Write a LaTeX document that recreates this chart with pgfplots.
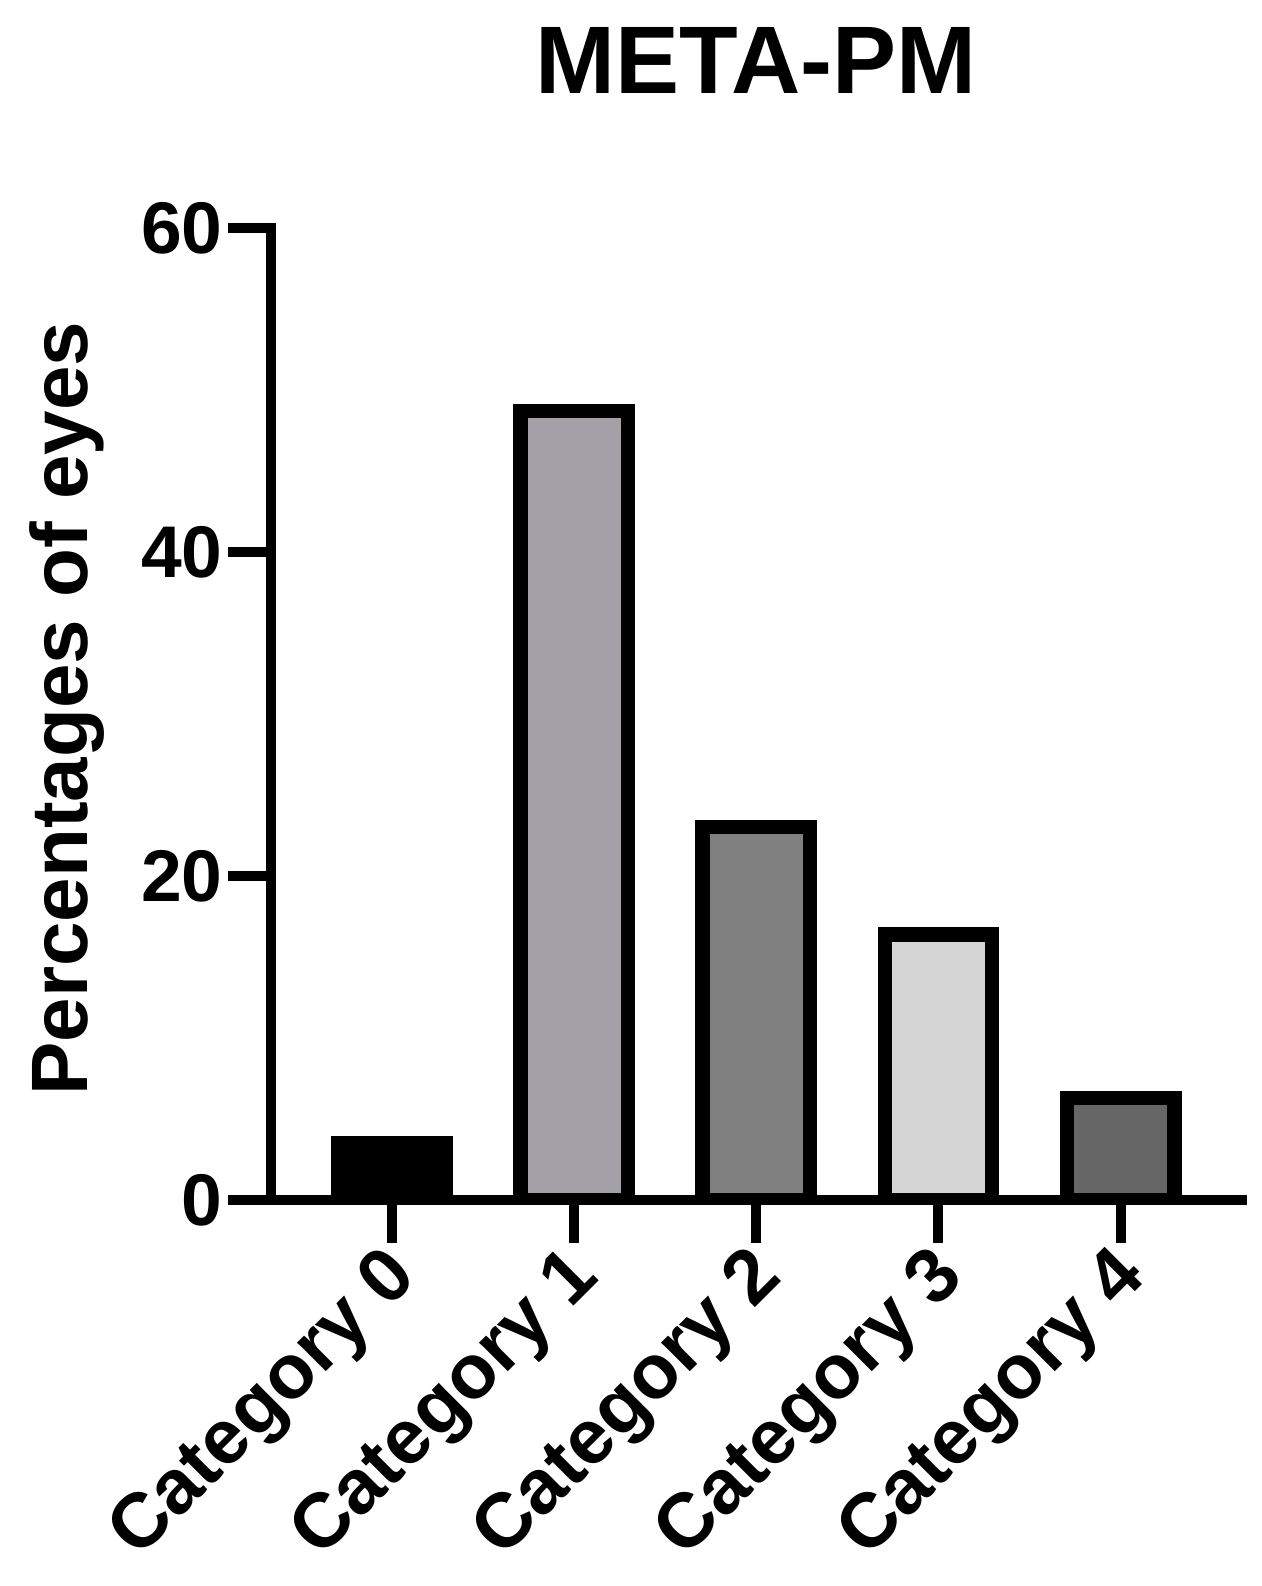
\documentclass[border=0pt]{standalone}
\usepackage{fontspec}
\setmainfont{Liberation Sans}
\usepackage{pgfplots}
\pgfplotsset{compat=1.18}
\definecolor{cA}{RGB}{163,161,167}
\definecolor{cB}{RGB}{128,128,128}
\definecolor{cC}{RGB}{213,213,213}
\definecolor{cD}{RGB}{102,102,102}
\begin{document}
\begin{tikzpicture}
\useasboundingbox (0,0) rectangle (315.5pt,396.5pt);
\begin{axis}[
  at={(67.75pt,96.4pt)}, anchor=south west,
  scale only axis, width=242.7pt, height=243.1pt,
  xmin=-0.664, xmax=4.665, ymin=0, ymax=60,
  axis lines*=left,
  axis line style={line width=2.5pt, line cap=rect, -},
  axis on top,
  xtick={0,1,2,3,4},
  xticklabels={Category 0,Category 1,Category 2,Category 3,Category 4},
  ytick={0,20,40,60},
  minor tick num=0,
  tick align=outside,
  major tick length=10.7pt,
  tick style={black, line width=2.5pt, line cap=butt},
  /pgf/number format/assume math mode=true,
  yticklabel style={font=\fontsize{18.3}{20}\selectfont\bfseries, anchor=east, inner sep=0pt, xshift=-1.2pt},
  xticklabel style={font=\fontsize{19.2}{21}\selectfont\bfseries, anchor=east, inner sep=0pt, xshift=3.6pt, yshift=-5.5pt, rotate=45},
  title={META-PM},
  title style={at={(axis description cs:0.5,1.114)}, anchor=base, font=\fontsize{24}{27}\selectfont\bfseries},
  ylabel={Percentages of eyes},
  ylabel style={at={(axis description cs:-0.189,0.5056)}, anchor=base, font=\fontsize{20}{22}\selectfont\bfseries},
]
\addplot[ybar, bar width=0.59, bar shift=0pt, fill=black, draw=black, line width=3.6pt] coordinates {(0,3.5)};
\addplot[ybar, bar width=0.59, bar shift=0pt, fill=cA, draw=black, line width=3.6pt] coordinates {(1,48.7)};
\addplot[ybar, bar width=0.59, bar shift=0pt, fill=cB, draw=black, line width=3.6pt] coordinates {(2,23.05)};
\addplot[ybar, bar width=0.59, bar shift=0pt, fill=cC, draw=black, line width=3.6pt] coordinates {(3,16.4)};
\addplot[ybar, bar width=0.59, bar shift=0pt, fill=cD, draw=black, line width=3.6pt] coordinates {(4,6.3)};
\end{axis}
\end{tikzpicture}
\end{document}
